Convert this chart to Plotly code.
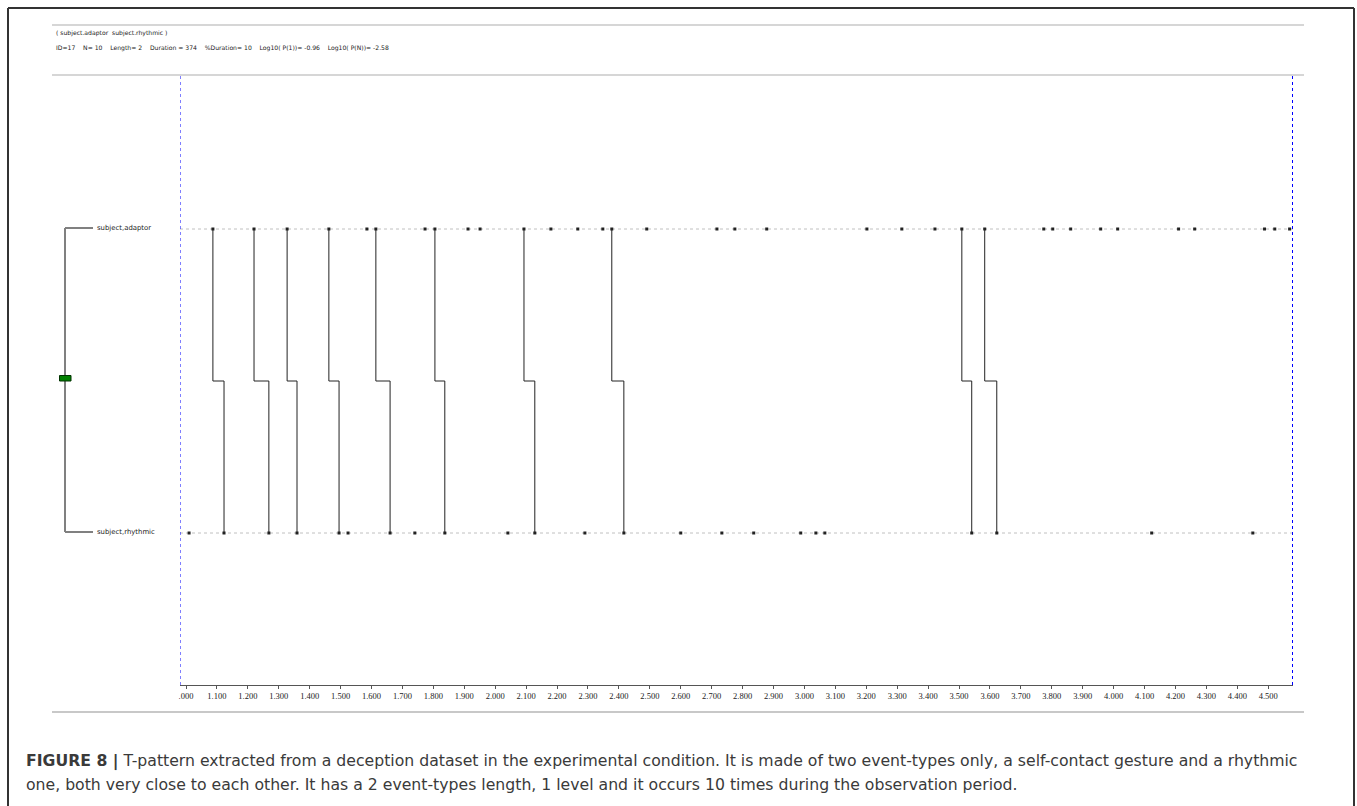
import plotly.graph_objects as go

# ---------------- data ----------------
event_types = ["subject,rhythmic", "subject,adaptor"]   # row 0, row 1
adaptor_times = [1087, 1220, 1327, 1462, 1585, 1614, 1773, 1805, 1912, 1951,
                 2093, 2180, 2267, 2348, 2377, 2490, 2717, 2775, 2878, 3202,
                 3315, 3422, 3509, 3583, 3774, 3803, 3861, 3958, 4013, 4210,
                 4262, 4488, 4521, 4569]
rhythmic_times = [1010, 1123, 1268, 1359, 1495, 1524, 1660, 1740, 1837, 2041,
                  2128, 2290, 2416, 2600, 2733, 2836, 2988, 3037, 3066, 3541,
                  3622, 4123, 4450]
pattern_adaptor = [1087, 1220, 1327, 1462, 1614, 1805, 2093, 2377, 3509, 3583]
pattern_rhythmic = [1123, 1268, 1359, 1495, 1660, 1837, 2128, 2416, 3541, 3622]
tick_values = list(range(1000, 4600, 100))
tick_labels = [".000"] + ["%d.%03d" % (v // 1000, v % 1000) for v in tick_values[1:]]
obs_start, obs_end = 980.6, 4580
header_1 = "( subject.adaptor  subject.rhythmic )"
header_2 = ("ID=17    N= 10    Length= 2    Duration = 374    %Duration= 10    "
            "Log10( P(1))= -0.96    Log10( P(N))= -2.58")
caption_1 = ("<b>FIGURE 8 |</b> T-pattern extracted from a deception dataset in the experimental "
             "condition. It is made of two event-types only, a self-contact gesture and a rhythmic")
caption_2 = ("one, both very close to each other. It has a 2 event-types length, 1 level and it "
             "occurs 10 times during the observation period.")

W, H = 1357, 806
def px(x):
    return x / W
def py(y):
    return 1 - y / H

fig = go.Figure()

# pattern connectors
cx, cy = [], []
for a, r in zip(pattern_adaptor, pattern_rhythmic):
    cx += [a, a, r, r, None]
    cy += [1, 0.5, 0.5, 0, None]
fig.add_trace(go.Scatter(x=cx, y=cy, mode="lines",
                         line=dict(color="#222222", width=1), hoverinfo="skip"))

# event occurrences
fig.add_trace(go.Scatter(x=adaptor_times, y=[1] * len(adaptor_times), mode="markers",
                         marker=dict(symbol="square", size=3, color="#222222")))
fig.add_trace(go.Scatter(x=rhythmic_times, y=[0] * len(rhythmic_times), mode="markers",
                         marker=dict(symbol="square", size=3, color="#222222")))

shapes = []
# row guide lines
for yv in (0, 1):
    shapes.append(dict(type="line", xref="x domain", yref="y", x0=0, x1=1, y0=yv, y1=yv,
                       line=dict(color="#c0c0c0", width=1, dash="dot"), layer="below"))
# observation limits
shapes.append(dict(type="line", xref="x", yref="paper", x0=obs_start, x1=obs_start,
                   y0=py(685), y1=py(75), line=dict(color="#0000ff", width=1, dash="dot")))
shapes.append(dict(type="line", xref="x", yref="paper", x0=obs_end, x1=obs_end,
                   y0=py(685), y1=py(75), line=dict(color="#0000ff", width=2, dash="dot")))
# header / footer rules
for yy, wd in ((25, 1.5), (75, 1.5), (712, 2)):
    shapes.append(dict(type="line", xref="paper", yref="paper", x0=px(52), x1=px(1304),
                       y0=py(yy), y1=py(yy), line=dict(color="#c8c8c8", width=wd)))
# tree
tree_col = "#808080"
shapes.append(dict(type="line", xref="paper", yref="paper", x0=px(65), x1=px(65),
                   y0=py(228), y1=py(532), line=dict(color=tree_col, width=2)))
for yy in (228, 532):
    shapes.append(dict(type="line", xref="paper", yref="paper", x0=px(65), x1=px(93),
                       y0=py(yy), y1=py(yy), line=dict(color=tree_col, width=2)))
shapes.append(dict(type="rect", xref="paper", yref="paper", x0=px(59.5), x1=px(71),
                   y0=py(381), y1=py(375.5), fillcolor="#008000",
                   line=dict(color="#003300", width=1)))
# figure border
border = dict(color="#333333", width=2)
shapes.append(dict(type="line", xref="paper", yref="paper", x0=px(8), x1=px(8),
                   y0=py(8), y1=0, line=border))
shapes.append(dict(type="line", xref="paper", yref="paper", x0=px(1354), x1=px(1354),
                   y0=py(8), y1=0, line=border))
shapes.append(dict(type="line", xref="paper", yref="paper", x0=px(8), x1=px(1354),
                   y0=py(8), y1=py(8), line=border))

small = dict(family="DejaVu Sans", size=6.1, color="#222222")
label_font = dict(family="DejaVu Sans", size=6.9, color="#222222")
cap_font = dict(family="DejaVu Sans", size=15.7, color="#3a3a3a")
annotations = [
    dict(text=header_1, x=px(54), y=py(33), xref="paper", yref="paper",
         xanchor="left", yanchor="middle", showarrow=False, font=small),
    dict(text=header_2, x=px(54), y=py(48), xref="paper", yref="paper",
         xanchor="left", yanchor="middle", showarrow=False, font=small),
    dict(text=event_types[1], x=px(95), y=py(228), xref="paper", yref="paper",
         xanchor="left", yanchor="middle", showarrow=False, font=label_font),
    dict(text=event_types[0], x=px(95), y=py(532), xref="paper", yref="paper",
         xanchor="left", yanchor="middle", showarrow=False, font=label_font),
    dict(text=caption_1, x=px(24), y=py(761), xref="paper", yref="paper",
         xanchor="left", yanchor="middle", showarrow=False, font=cap_font),
    dict(text=caption_2, x=px(24), y=py(784), xref="paper", yref="paper",
         xanchor="left", yanchor="middle", showarrow=False, font=cap_font),
]

fig.update_layout(
    width=W, height=H, margin=dict(l=0, r=0, t=0, b=0),
    paper_bgcolor="white", plot_bgcolor="white", showlegend=False,
    shapes=shapes, annotations=annotations,
    xaxis=dict(domain=[px(180), px(1293)], range=[obs_start, obs_end],
               tickvals=tick_values, ticktext=tick_labels, showgrid=False, zeroline=False,
               showline=True, linecolor="#555555", linewidth=1,
               ticks="outside", ticklen=3, tickcolor="#555555",
               tickfont=dict(family="Liberation Serif", size=8.5, color="#222222")),
    yaxis=dict(domain=[py(685), py(75)], range=[-0.5, 1.5066], visible=False),
)

fig.write_html("out.html", config={"displayModeBar": False},
               post_script="document.body.style.margin='0';")
